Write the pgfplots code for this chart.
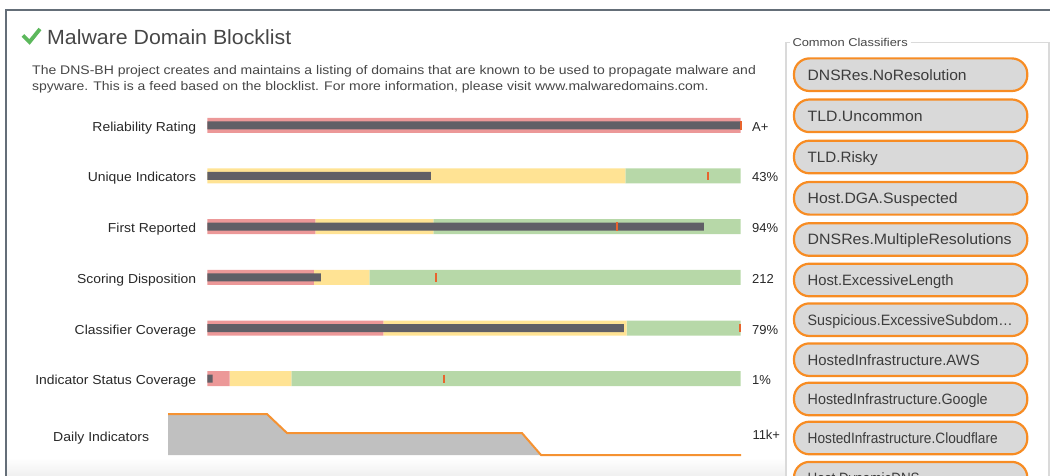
\documentclass[border=0pt]{standalone}
\usepackage{graphicx}
\usepackage{pgfplots}
\pgfplotsset{compat=1.18}
\usepackage{fontspec}
\setmainfont{Liberation Sans}
\definecolor{cred}{RGB}{236,152,152}
\definecolor{cyel}{RGB}{255,227,148}
\definecolor{cgrn}{RGB}{183,216,168}
\definecolor{cdark}{RGB}{96,95,102}
\definecolor{cmark}{RGB}{232,100,45}
\definecolor{corange}{RGB}{247,140,35}
\definecolor{cpill}{RGB}{217,217,217}
\definecolor{ctext}{RGB}{40,40,40}
\definecolor{cdesc}{RGB}{70,70,70}
\definecolor{cpilltext}{RGB}{60,60,60}
\definecolor{cborder}{RGB}{100,110,120}
\definecolor{cfield}{RGB}{218,218,218}
\definecolor{ccheck}{RGB}{92,184,92}
\definecolor{cfill}{RGB}{192,192,192}
\definecolor{cline}{RGB}{245,146,50}
\newcommand{\fs}[1]{\fontsize{#1}{#1}\selectfont}
\newcommand{\hs}[2]{\scalebox{#1}[1]{#2}}
\begin{document}
\begin{tikzpicture}[x=1pt,y=-1pt]
\path[use as bounding box] (0,0) rectangle (1050,476);
\clip (0,0) rectangle (1050,476);
% card
\shade[top color=white,bottom color=black!6] (7,458) rectangle (786,476);
\draw[cborder,line width=2pt] (6,477) -- (6,10.5) -- (1051,10.5);
% title
\draw[ccheck,line width=3.8pt] (23,35.5) -- (29.5,42) -- (40,29);
\node[anchor=base west,inner sep=0,text=cdesc] at (47,44.5) {\fs{20.5}\hs{1.04}{Malware Domain Blocklist}};
\node[anchor=base west,inner sep=0,text=cdesc] at (32,75) {\fs{12.5}\hs{1.12}{The DNS-BH project creates and maintains a listing of domains that are known to be used to propagate malware and}};
\node[anchor=base west,inner sep=0,text=cdesc] at (32,91) {\fs{12.5}\hs{1.12}{spyware. This is a feed based on the blocklist. For more information, please visit www.malwaredomains.com.}};
% bullet backgrounds
\begin{axis}[at={(207.3pt,-99.96pt)}, anchor=north west, scale only axis,
  width=533.4pt, height=304.1pt, xmin=0, xmax=100, ymin=0.5, ymax=6.5,
  y dir=reverse, xbar stacked, bar width=15pt, axis line style={draw=none},
  ytick={1,...,6}, xtick=\empty, major tick length=0pt,
  yticklabels={\hs{1.07}{Reliability Rating},\hs{1.07}{Unique Indicators},\hs{1.07}{First Reported},\hs{1.07}{Scoring Disposition},\hs{1.07}{Classifier Coverage},\hs{1.07}{Indicator Status Coverage}},
  yticklabel style={font=\fs{13}, text=ctext, inner sep=0pt, anchor=base east, xshift=-11pt, yshift=-6pt},
  clip=false]
\addplot[fill=cred,draw=none] coordinates {(100,1) (0,2) (20.25,3) (20.0,4) (33.0,5) (4.2,6)};
\addplot[fill=cyel,draw=none] coordinates {(0,1) (78.4,2) (22.15,3) (10.4,4) (45.6,5) (11.55,6)};
\addplot[fill=cgrn,draw=none] coordinates {(0,1) (21.6,2) (57.6,3) (69.6,4) (21.4,5) (84.25,6)};
\end{axis}
% markers and value bars
\begin{axis}[at={(207.3pt,-99.96pt)}, anchor=north west, scale only axis,
  width=533.4pt, height=304.1pt, xmin=0, xmax=100, ymin=0.5, ymax=6.5,
  y dir=reverse, hide axis, clip=false]
\addplot[only marks, mark=|, mark size=4.2pt, mark options={line width=2pt, draw=cmark}] coordinates {(100,1) (93.8,2) (76.9,3) (42.9,4) (99.9,5) (44.4,6)};
\addplot[xbar, bar width=8pt, fill=cdark, draw=none] coordinates {(100,1) (41.9,2) (93.1,3) (21.3,4) (78.1,5) (1.0,6)};
\foreach \r/\v in {1/A+,2/43\%,3/94\%,4/212,5/79\%,6/1\%}{
  \edef\tmp{\noexpand\node[anchor=base west,inner sep=0,text=ctext,xshift=11.3pt,yshift=-6pt] at (axis cs:100,\r) {\noexpand\fs{13}\v};}
  \tmp
}
\end{axis}
% daily indicators
\node[anchor=base west,inner sep=0,text=ctext] at (53,441) {\fs{13}\hs{1.08}{Daily Indicators}};
\begin{axis}[at={(168pt,-455pt)}, anchor=south west, scale only axis,
  width=573pt, height=41pt, xmin=0, xmax=30, ymin=0, ymax=11, hide axis, clip=false]
\addplot[fill=cfill,draw=none] coordinates {(0,11) (5.18,11) (6.23,5.9) (18.53,5.9) (19.53,0) (30,0)} \closedcycle;
\addplot[cline, line width=2pt] coordinates {(0,11) (5.18,11) (6.23,5.9) (18.53,5.9) (19.53,0) (30,0)};
\node[anchor=base west,inner sep=0,text=ctext,xshift=11.3pt,yshift=-5pt] at (axis cs:30,5.5) {\fs{13}11k+};
\end{axis}
% classifier panel
\draw[cfield,line width=1.3pt] (786,477) -- (786,42.7) -- (789.5,42.7);
\draw[cfield,line width=1.3pt] (910.5,42.7) -- (1049,42.7) -- (1049,477);
\node[anchor=base west,inner sep=0,text=cdesc] at (792.3,46.7) {\fs{11.3}\hs{1.14}{Common Classifiers}};
\foreach \yy/\ww/\lab in {74.7/159/DNSRes.NoResolution,115.8/115/TLD.Uncommon,157/70/TLD.Risky,198.3/150/Host.DGA.Suspected,239.5/204/DNSRes.MultipleResolutions,280/146/Host.ExcessiveLength,319.7/205/Suspicious.ExcessiveSubdom…,359.7/172/HostedInfrastructure.AWS,399/180/HostedInfrastructure.Google,438/190/HostedInfrastructure.Cloudflare,478.2/112/Host.DynamicDNS}{
  \draw[corange,line width=2.2pt,fill=cpill,rounded corners=15.5pt] (794,\yy-16.3) rectangle (1027.3,\yy+16.3);
  \node[anchor=base west,inner sep=0,text=cpilltext] at (807.5,\yy+5.4) {\fs{15}\resizebox{\ww pt}{\height}{\lab}};
}
\end{tikzpicture}
\end{document}
